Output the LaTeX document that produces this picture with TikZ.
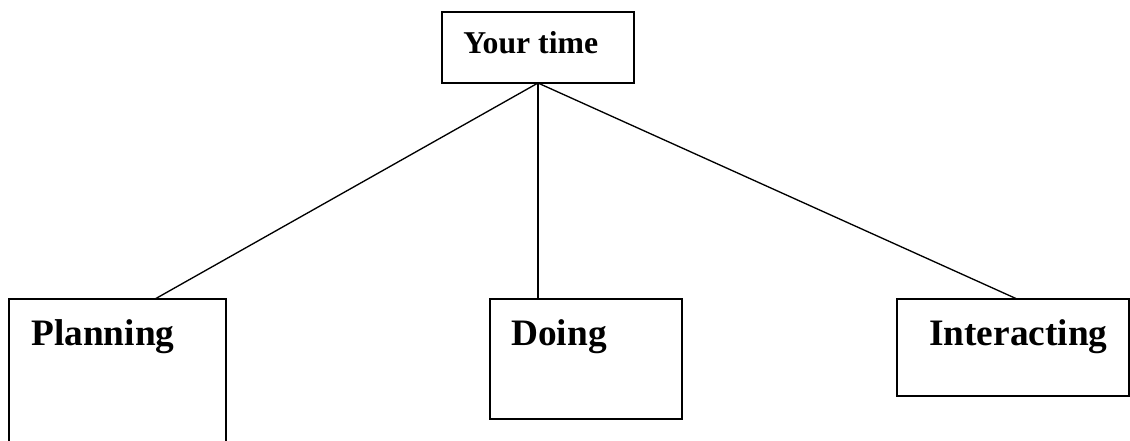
\documentclass[tikz,border=0pt]{standalone}
\usepackage{fontspec}
\setmainfont{Liberation Serif}
\tikzset{
	box/.style={draw,line width=1.3pt,inner sep=0pt,outer sep=0pt},
	lbl/.style={anchor=base west,inner sep=0pt,font=\bfseries\fontsize{28}{30}\selectfont},
	lblsmall/.style={anchor=base west,inner sep=0pt,font=\bfseries\fontsize{23.8}{26}\selectfont},
	link/.style={line width=1pt}
}
\begin{document}
\begin{tikzpicture}[x=0.75pt,y=-0.75pt]
			\clip (0,0) rectangle (1130,440);
			
			%Hop tren
			\node[box,minimum width=144pt,minimum height=53.25pt] (yt) at (538,47.5) {};
			\node[lblsmall] (ytl) at (463,53) {Your time};
			
			%Hop duoi
			\node[box,minimum width=162.75pt,minimum height=128.25pt] (pl) at (117.5,384.5) {};
			\node[box,minimum width=144pt,minimum height=90pt] (do) at (586,359) {};
			\node[box,minimum width=174pt,minimum height=72.75pt] (in) at (1013,347.5) {};
			\node[lbl] (pll) at (31,345) {Planning};
			\node[lbl] (dol) at (511,345) {Doing};
			\node[lbl] (inl) at (929,345) {Interacting};
			
			%---------------duong noi
			\draw[link] (yt.south)--([xshift=109.5pt]pl.north west);
			\draw[link] (yt.south)--([xshift=36pt]do.north west);
			\draw[link] (yt.south)--([xshift=90pt]in.north west);
\end{tikzpicture}
\end{document}
